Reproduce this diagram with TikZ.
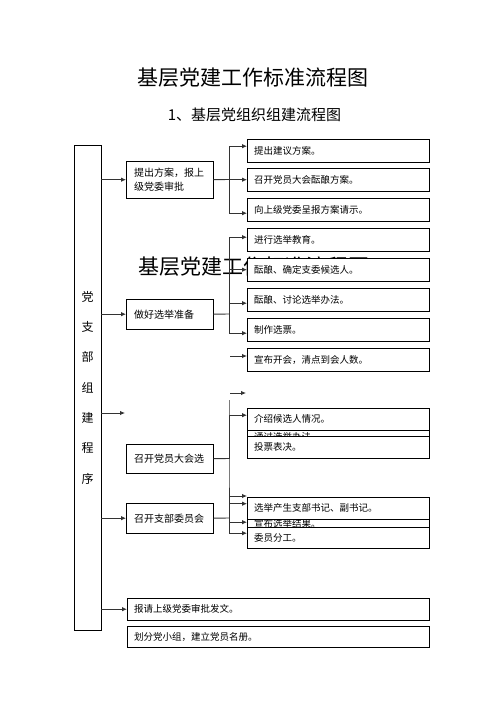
\documentclass[tikz,border=0pt]{standalone}
\usepackage{fontspec}
\setmainfont{Noto Sans CJK SC}
\usetikzlibrary{arrows.meta}

\tikzset{
  stepbox/.style={draw, fill=white, anchor=north west, inner xsep=7pt, inner ysep=0pt,
    align=left, text width=168pt, minimum height=23pt, font=\fontsize{9.5}{12}\selectfont},
  mainbox/.style={draw, fill=white, anchor=north west, inner xsep=8pt, inner ysep=0pt,
    align=left, text width=71pt, font=\fontsize{10}{14}\selectfont},
  longbox/.style={stepbox, text width=288pt, minimum height=22pt},
  arr/.style={-{Latex[length=5pt,width=4.5pt]}, line width=0.9pt, black!80},
  bus/.style={line width=0.9pt, black!80}
}

\begin{document}
\begin{tikzpicture}[x=1pt, y=-1pt]
  \useasboundingbox (0,0) rectangle (500,706);

  % Titles
  \node[font=\fontsize{21}{25}\selectfont] (title) at (253,78) {基层党建工作标准流程图};
  \node[font=\fontsize{15}{18}\selectfont] (subtitle) at (254.5,115) {1、基层党组织组建流程图};

  % The title printed once more, half hidden behind the boxes
  \node[anchor=west, inner sep=0pt, font=\fontsize{21}{25}\selectfont] (ghost) at (138,267) {基层党建工作标准流程图};

  % Boxes that lie under other boxes
  \node[stepbox] (pass) at (247,425.5) {通过选举办法。};
  \node[stepbox] (announce) at (247,512) {宣布选举结果。};

  % The tall box on the left
  \node[draw, fill=white, anchor=north west, minimum width=27pt, minimum height=485pt, inner sep=0pt,
    align=center, font=\fontsize{12}{30.3}\selectfont] (party) at (74,145) {党\\支\\部\\组\\建\\程\\序};

  % Main steps
  \node[mainbox, minimum height=37pt] (plan) at (126,161) {提出方案，报上\\级党委审批};
  \node[mainbox, minimum height=30pt] (prep) at (126,299) {做好选举准备};
  \node[mainbox, minimum height=29pt] (meeting) at (126,444) {召开党员大会选};
  \node[mainbox, minimum height=30pt] (committee) at (126,503) {召开支部委员会};
  \node[longbox] (report) at (127,598) {报请上级党委审批发文。};
  \node[longbox, minimum height=21pt] (group) at (127,626) {划分党小组，建立党员名册。};

  % Sub steps
  \node[stepbox] (r1) at (247,139) {提出建议方案。};
  \node[stepbox] (r2) at (247,168) {召开党员大会酝酿方案。};
  \node[stepbox] (r3) at (247,198) {向上级党委呈报方案请示。};
  \node[stepbox] (r4) at (247,228) {进行选举教育。};
  \node[stepbox] (r5) at (247,258) {酝酿、确定支委候选人。};
  \node[stepbox] (r6) at (247,288) {酝酿、讨论选举办法。};
  \node[stepbox] (r7) at (247,318) {制作选票。};
  \node[stepbox] (r8) at (247,348) {宣布开会，清点到会人数。};
  \node[stepbox, minimum height=22pt] (intro) at (247,408) {介绍候选人情况。};
  \node[stepbox, minimum height=22pt] (vote) at (247,436) {投票表决。};
  \node[stepbox, minimum height=22pt] (elect) at (247,496.5) {选举产生支部书记、副书记。};
  \node[stepbox, minimum height=21pt] (assign) at (247,527) {委员分工。};

  % Arrows out of the tall box
  \coordinate (e1) at (125,413);
  \draw[arr] (party.east |- plan.west) -- (plan.west);
  \draw[arr] (party.east |- prep.west) -- (prep.west);
  \draw[arr] (party.east |- e1) -- (e1);
  \draw[arr] (party.east |- committee.west) -- (committee.west);
  \draw[arr] (party.east |- report.west) -- (report.west);

  % First branch
  \coordinate (j1) at (229,179.5);
  \draw[bus] (plan.east) -- (j1);
  \draw[arr] (j1) |- ([yshift=4.5pt]r1.west);
  \draw[arr] (j1) |- (r2.west);
  \draw[arr] (j1) |- ([yshift=-3.5pt]r3.west);

  % Second branch
  \coordinate (j2) at (229,314);
  \draw[bus] (prep.east) -- (j2);
  \draw[arr] (j2) |- ([yshift=2.5pt]r4.west);
  \draw[arr] (j2) |- (r5.west);
  \draw[arr] (j2) |- ([yshift=-3.5pt]r6.west);
  \draw[arr] (j2) |- ([yshift=-3.5pt]r7.west);
  \coordinate (s1) at (230,356);
  \draw[arr] (s1) -- (s1 -| r8.west);

  % Third branch
  \coordinate (s2) at (230,393);
  \coordinate (e2) at (246,393);
  \draw[arr] (s2) -- (e2);
  \coordinate (top3) at (229,400);
  \coordinate (j3) at (229,458.5);
  \coordinate (j4) at (229,518);
  \coordinate (e3) at (247,496);
  \draw[bus] (meeting.east) -- (j3);
  \draw[bus] (committee.east) -- (j4);
  \draw[bus] (top3) -- (j3) -- (j4);
  \draw[arr] (j3) |- ([yshift=4pt]intro.west);
  \draw[arr] (j4) |- (e3);
  \draw[arr] (j4) |- ([yshift=4pt]elect.west);
  \draw[arr] (j4) |- ([yshift=1.5pt]announce.west);
  \draw[arr] (j4) |- ([yshift=4.5pt]assign.west);

\end{tikzpicture}
\end{document}
